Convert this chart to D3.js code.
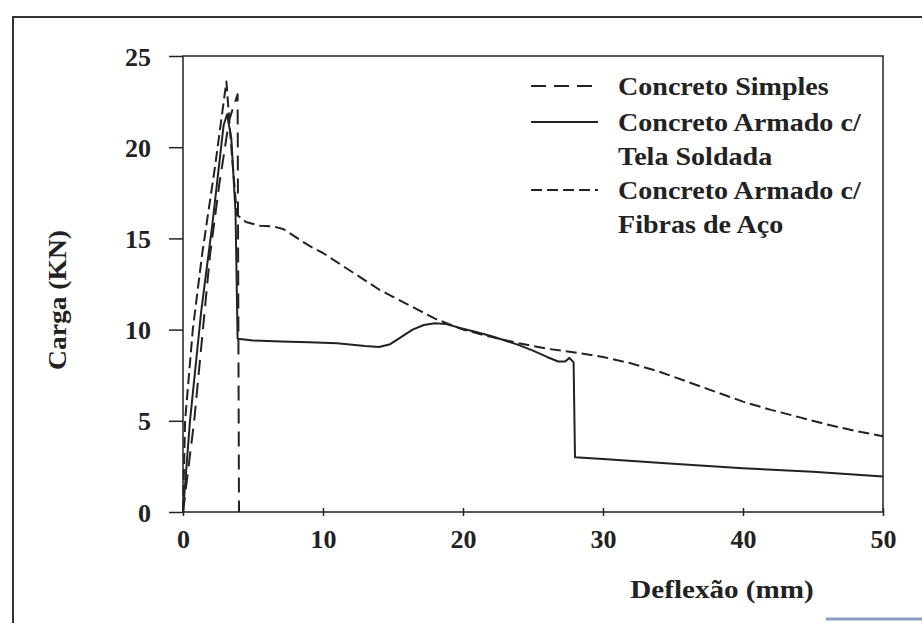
<!DOCTYPE html>
<html>
<head>
<meta charset="utf-8">
<script src="https://cdn.jsdelivr.net/npm/d3@7"></script>
<style>
    body { margin: 0; background: #fff; }
    text { font-family: "Liberation Serif", "Times New Roman", serif; font-weight: bold; fill: #222; }
</style>
</head>
<body>
<svg id="chart"></svg>
<script>
// Carga x Deflexao
const xTicks = [0, 10, 20, 30, 40, 50]
const yTicks = [0, 5, 10, 15, 20, 25]

const simplesX = [0, 0.8, 1.93, 2.6, 3.3, 3.9, 4.0]
const simplesY = [0, 5, 14.1, 18, 21.5, 22.9, 0]

const telaX = [0, 0.5, 1.3, 2.1, 2.9, 3.15, 3.45, 3.75, 3.9, 5, 7, 9, 11, 13, 14, 14.8, 15.6, 16.4, 17.2, 18, 18.8, 20, 21, 22, 23, 24, 25, 26, 26.8, 27.3, 27.6, 27.9, 28, 30, 35, 40, 45, 50]
const telaY = [0, 5, 11, 15.8, 21.2, 21.8, 20.5, 16.5, 9.5, 9.4, 9.35, 9.3, 9.25, 9.1, 9.05, 9.2, 9.6, 10.0, 10.25, 10.35, 10.3, 10.05, 9.85, 9.65, 9.4, 9.15, 8.85, 8.5, 8.25, 8.25, 8.45, 8.2, 3.0, 2.9, 2.65, 2.4, 2.2, 1.95]

const fibrasX = [0, 0.15, 0.7, 1.36, 2.3, 3.1, 3.5, 3.85, 4.5, 5.5, 6.5, 7.2, 8, 9, 10, 11, 12, 13, 14, 15, 16, 17, 18, 19, 20, 22, 24, 26, 28, 30, 32, 34, 36, 38, 40, 42, 44, 46, 48, 50]
const fibrasY = [0, 5, 10, 14.1, 19, 23.6, 19.5, 16.3, 15.9, 15.7, 15.65, 15.5, 15.1, 14.6, 14.2, 13.7, 13.2, 12.7, 12.2, 11.8, 11.4, 11.0, 10.6, 10.3, 10.0, 9.6, 9.25, 8.95, 8.75, 8.5, 8.15, 7.7, 7.15, 6.6, 6.05, 5.6, 5.2, 4.8, 4.45, 4.15]

const legendLabels = [["Concreto Simples"], ["Concreto Armado c/", "Tela Soldada"], ["Concreto Armado c/", "Fibras de Aço"]]
const dashes = ["15,8", null, "11,5"]

const chart = { width: 922, height: 623 }
const ink = "#222"

const svg = d3.select("#chart")
    .attr("width", chart.width)
    .attr("height", chart.height)

const scaleX = d3.scaleLinear().domain([0, 50]).range([183, 883])
const scaleY = d3.scaleLinear().domain([0, 25]).range([512, 56])

// outer frame of the scanned figure
svg.append("path")
    .attr("d", "M13,623 V17 H922")
    .attr("fill", "none")
    .attr("stroke", "#333")
    .attr("stroke-width", 2)
svg.append("line")
    .attr("x1", 826).attr("x2", 922).attr("y1", 619).attr("y2", 619)
    .attr("stroke", "#8aa0c0").attr("stroke-width", 3)

// plot box
svg.append("rect")
    .attr("x", scaleX(0))
    .attr("y", scaleY(25))
    .attr("width", scaleX(50) - scaleX(0))
    .attr("height", scaleY(0) - scaleY(25))
    .attr("fill", "none")
    .attr("stroke", ink)
    .attr("stroke-width", 1.5)

const yAxis = d3.axisLeft(scaleY).tickValues(yTicks).tickSize(14).tickPadding(18)
const gy = svg.append("g")
    .attr("transform", "translate(" + scaleX(0) + ",0)")
    .call(yAxis)
gy.select(".domain").remove()
gy.selectAll("line").attr("stroke", ink).attr("stroke-width", 1.5)
gy.selectAll("text").attr("font-size", 26).attr("dy", "0.35em")

const xAxis = d3.axisBottom(scaleX).tickValues(xTicks).tickSize(8).tickPadding(14)
const gx = svg.append("g")
    .attr("transform", "translate(0," + (scaleY(0) - 4) + ")")
    .call(xAxis)
gx.select(".domain").remove()
gx.selectAll("line").attr("stroke", ink).attr("stroke-width", 1.5)
gx.selectAll("text").attr("font-size", 26)

svg.append("text")
    .attr("transform", "translate(66,300) rotate(-90) scale(1.06,1)")
    .attr("text-anchor", "middle")
    .attr("font-size", 26)
    .text("Carga (KN)")

svg.append("text")
    .attr("transform", "translate(722,598) scale(1.12,1)")
    .attr("text-anchor", "middle")
    .attr("font-size", 26)
    .text("Deflexão (mm)")

const series = [
    simplesX.map((x, i) => ({ x: x, y: simplesY[i] })),
    telaX.map((x, i) => ({ x: x, y: telaY[i] })),
    fibrasX.map((x, i) => ({ x: x, y: fibrasY[i] }))
]

const line = d3.line()
    .x((d) => scaleX(d.x))
    .y((d) => scaleY(d.y))

series.forEach((s, i) => {
    svg.append("path")
        .datum(s)
        .attr("fill", "none")
        .attr("stroke", ink)
        .attr("stroke-width", 2)
        .attr("stroke-linejoin", "round")
        .attr("stroke-dasharray", dashes[i])
        .attr("d", line)
})

// legend
const legendRows = [86, 122, 190]
legendLabels.forEach((lines, i) => {
    svg.append("line")
        .attr("x1", 531).attr("x2", 598)
        .attr("y1", legendRows[i]).attr("y2", legendRows[i])
        .attr("stroke", ink)
        .attr("stroke-width", 2)
        .attr("stroke-dasharray", dashes[i])
    lines.forEach((t, j) => {
        svg.append("text")
            .attr("transform", "translate(618," + (legendRows[i] + 9 + j * 34) + ") scale(1.08,1)")
            .attr("font-size", 26)
            .text(t)
    })
})
</script>
</body>
</html>
